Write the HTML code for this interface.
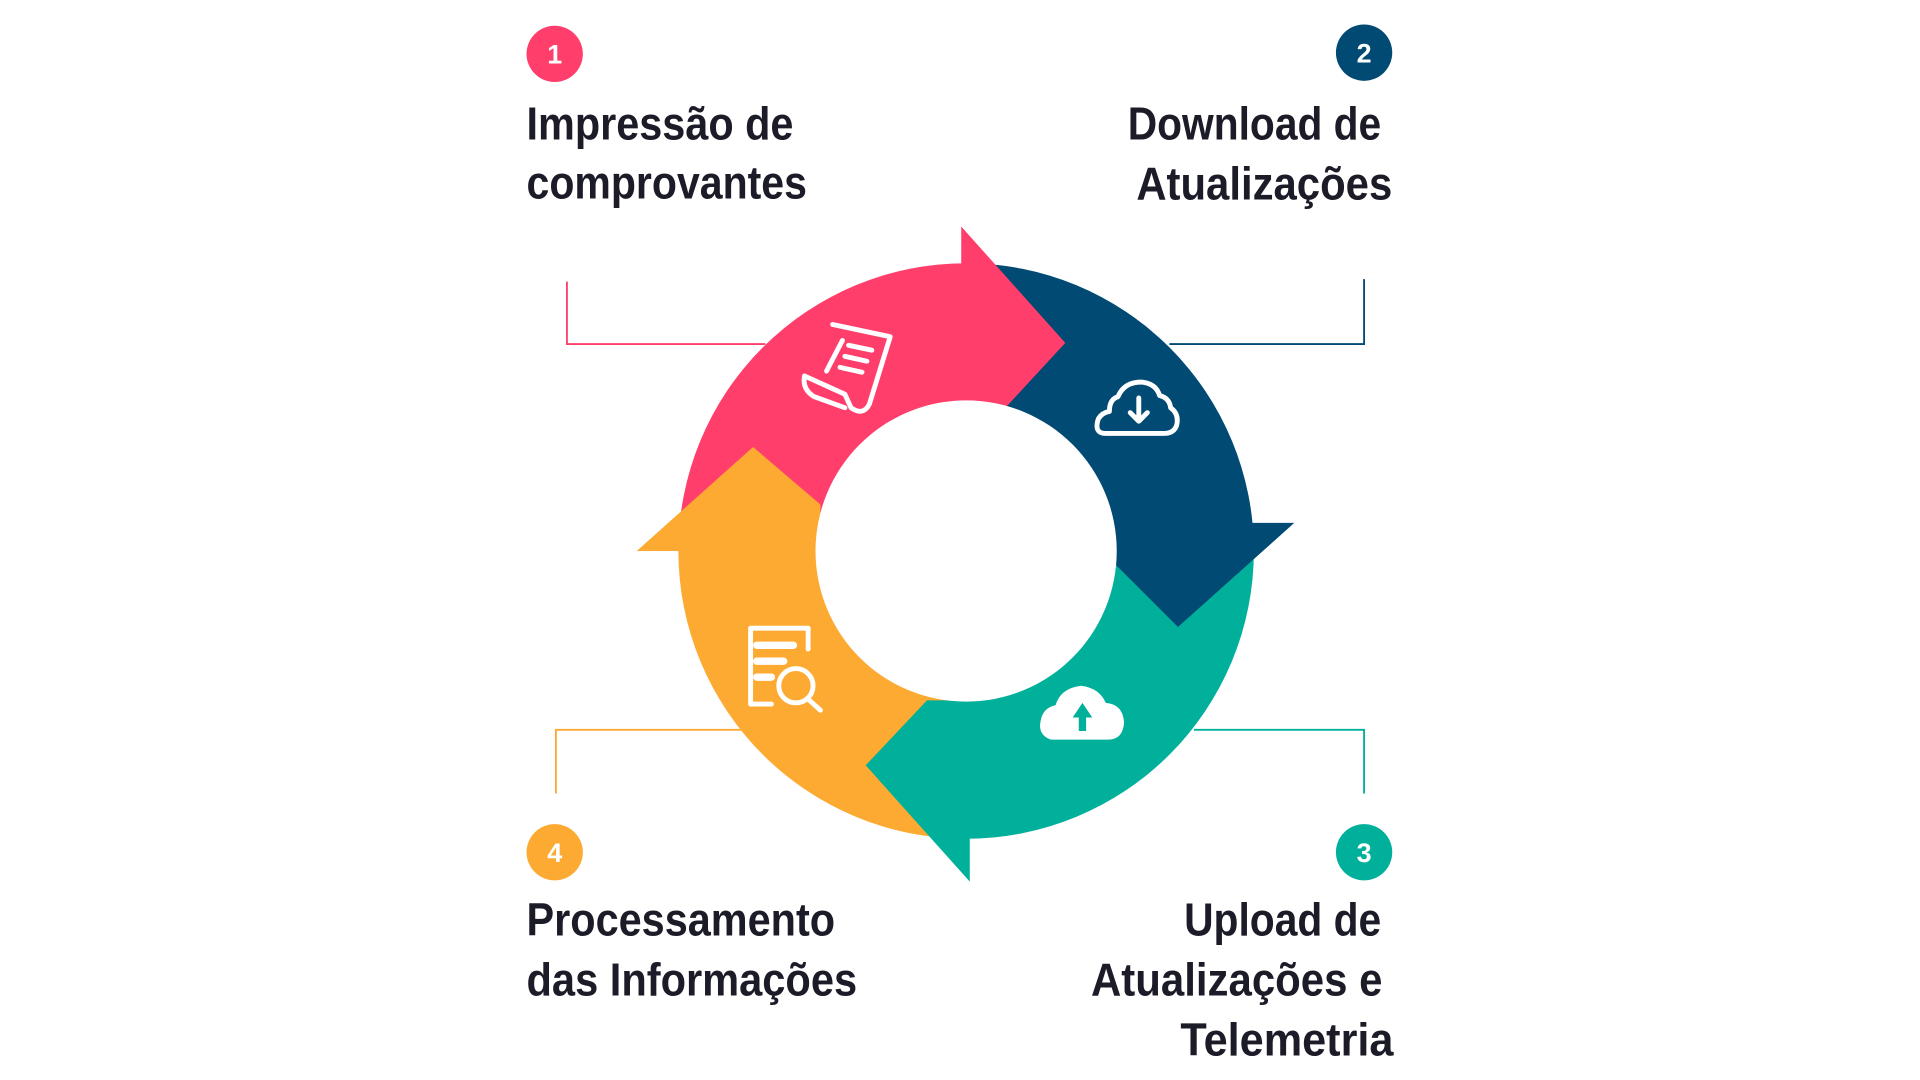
<!DOCTYPE html>
<html><head><meta charset="utf-8"><style>html,body{margin:0;padding:0;background:#fff}svg{display:block}</style></head>
<body>
<svg width="1920" height="1080" viewBox="0 0 1568 882" preserveAspectRatio="none">
<defs><style>text{font-family:"Liberation Sans Narrow","Liberation Sans",sans-serif;font-weight:bold;font-size:38px;fill:#1c1c28}</style></defs>
<!-- connectors -->
<polyline points="463,230 463,281 625,281" fill="none" stroke="#FF3E6C" stroke-width="1.5"/>
<polyline points="1114,228 1114,281 955,281" fill="none" stroke="#004A73" stroke-width="1.5"/>
<polyline points="454,648 454,596 605,596" fill="none" stroke="#FDAA33" stroke-width="1.5"/>
<polyline points="1114,648 1114,596 975,596" fill="none" stroke="#00B09B" stroke-width="1.5"/>
<!-- sectors -->
<path d="M554,450 A235,235 0 0 1 789,215 L789,450 Z" fill="#FF3E6C"/>
<path d="M789,215 A235,235 0 0 1 1024,450 L789,450 Z" fill="#004A73"/>
<path d="M1024,450 A235,235 0 0 1 789,685 L789,450 Z" fill="#00B09B"/>
<path d="M789,685 A235,235 0 0 1 554,450 L789,450 Z" fill="#FDAA33"/>
<!-- heads -->
<polygon points="785,185 870,280 822,332 785,332" fill="#FF3E6C"/>
<polygon points="1022,427 1057,427 962,512 908,458 908,427" fill="#004A73"/>
<polygon points="792,720 707,625 757,572 792,572" fill="#00B09B"/>
<polygon points="520,450 615,365 670,412 670,450" fill="#FDAA33"/>
<circle cx="789" cy="450" r="123" fill="#fff"/>
<!-- icons -->
<g fill="none" stroke="#fff" stroke-width="4" stroke-linejoin="round" stroke-linecap="round">
<path d="M680,265 L727,275 L710,330 Q705,340 695,333 L690,322 L657,307 Q655,318 665,324 L690,333"/>
<line x1="688" y1="278" x2="675" y2="303"/>
<line x1="693" y1="282" x2="712" y2="286"/><line x1="690" y1="291" x2="708" y2="295"/><line x1="686" y1="300" x2="704" y2="304"/>
<path d="M903,354 Q893,354 897,342 Q900,337 906,336 Q906,326 913,324 Q918,312 932,312 Q944,313 947,323 Q955,325 956,333 Q963,338 961,347 Q959,354 950,354 Z"/>
<path d="M930,325 V343 M923,337 L930,344 L937,337"/>
<path d="M633,513 H613 V575 H630 M633,513 H660 V530" />
<path d="M618,527 H648 M618,540 H640 M618,553 H630" stroke-width="6"/>
<circle cx="650" cy="560" r="14"/><line x1="660" y1="571" x2="670" y2="580"/>
</g>
<path d="M858,604 Q847,600 850,588 Q852,578 862,576 Q866,562 883,560 Q898,562 903,574 Q917,575 918,590 Q917,604 905,604 Z" fill="#fff"/>
<path d="M884,574 L876,586 H881 V597 H887 V586 H892 Z" fill="#00B09B"/>
<!-- numbers -->
<circle cx="453" cy="44" r="23" fill="#FF3E6C"/>
<circle cx="1114" cy="43" r="23" fill="#004A73"/>
<circle cx="1114" cy="696" r="23" fill="#00B09B"/>
<circle cx="453" cy="696" r="23" fill="#FDAA33"/>
<g style="font-size:22px">
<text x="453" y="52" text-anchor="middle" style="fill:#fff;font-size:22px">1</text>
<text x="1114" y="51" text-anchor="middle" style="fill:#fff;font-size:22px">2</text>
<text x="1114" y="704" text-anchor="middle" style="fill:#fff;font-size:22px">3</text>
<text x="453" y="704" text-anchor="middle" style="fill:#fff;font-size:22px">4</text>
</g>
<!-- labels -->
<text x="430" y="114" textLength="218" lengthAdjust="spacingAndGlyphs">Impressão de</text>
<text x="430" y="162" textLength="229" lengthAdjust="spacingAndGlyphs">comprovantes</text>
<text x="921" y="114" textLength="207" lengthAdjust="spacingAndGlyphs">Download de</text>
<text x="928" y="163" textLength="209" lengthAdjust="spacingAndGlyphs">Atualizações</text>
<text x="430" y="764" textLength="252" lengthAdjust="spacingAndGlyphs">Processamento</text>
<text x="430" y="813" textLength="270" lengthAdjust="spacingAndGlyphs">das Informações</text>
<text x="967" y="764" textLength="161" lengthAdjust="spacingAndGlyphs">Upload de</text>
<text x="891" y="813" textLength="238" lengthAdjust="spacingAndGlyphs">Atualizações e</text>
<text x="964" y="862" textLength="174" lengthAdjust="spacingAndGlyphs">Telemetria</text>
</svg>
</body></html>
